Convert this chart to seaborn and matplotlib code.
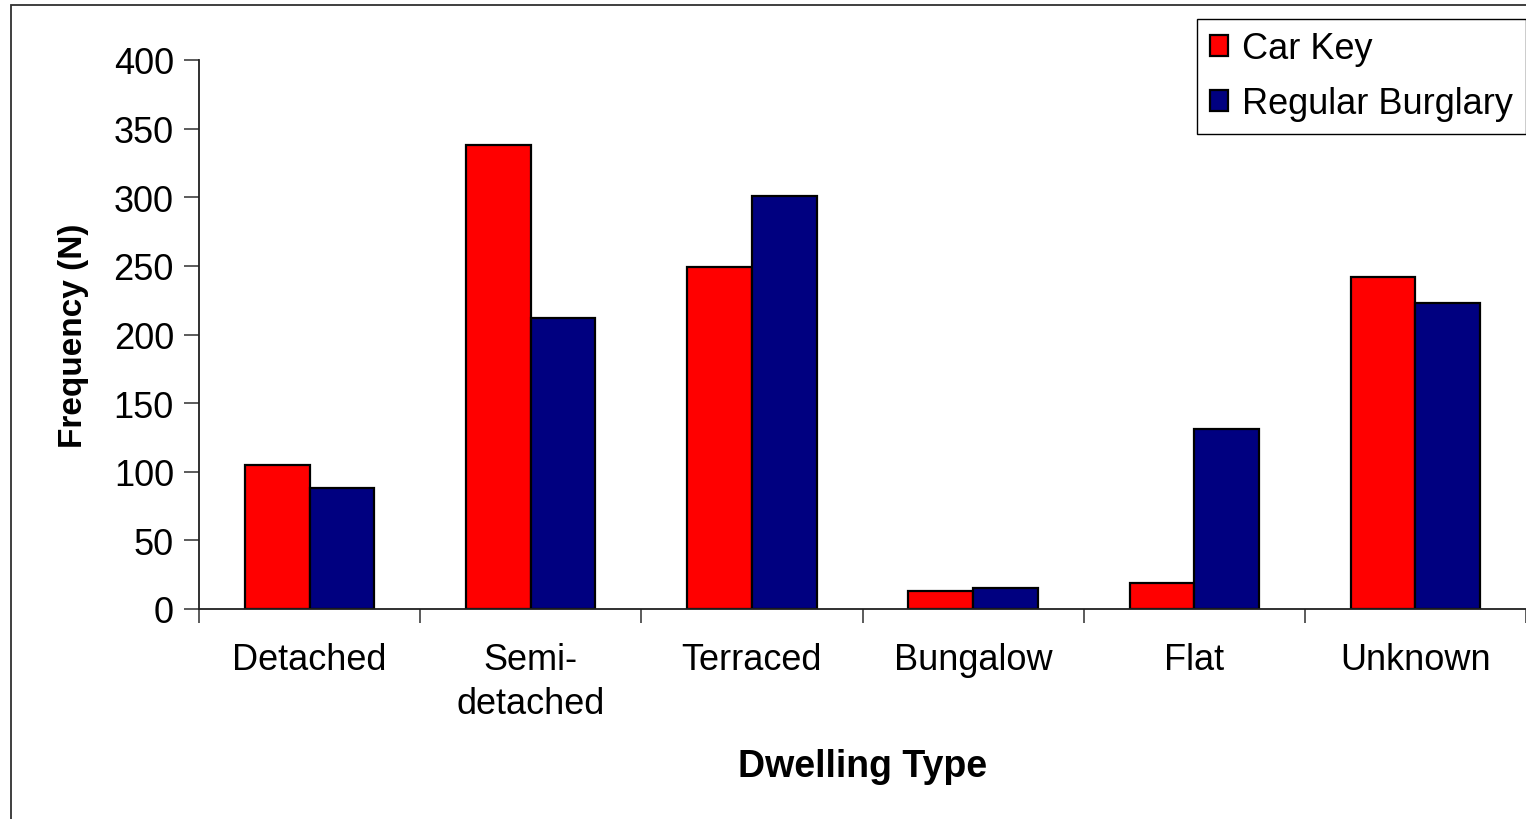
import matplotlib
matplotlib.use("Agg")
import matplotlib.pyplot as plt
from matplotlib.patches import Rectangle
import seaborn as sns
import pandas as pd

# Dwelling types and burglary counts
categories = ["Detached", "Semi-\ndetached", "Terraced", "Bungalow", "Flat", "Unknown"]
car_key = [105, 338, 249, 13, 19, 242]
regular_burglary = [88, 212, 301, 15, 131, 223]
series_names = ["Car Key", "Regular Burglary"]
y_ticks = [0, 50, 100, 150, 200, 250, 300, 350, 400]

df = pd.DataFrame({
    "Dwelling Type": categories * 2,
    "Frequency": car_key + regular_burglary,
    "Series": [series_names[0]] * len(categories) + [series_names[1]] * len(categories),
})

sns.set_style("white")
plt.rcParams["font.family"] = ["Liberation Sans", "DejaVu Sans"]
plt.rcParams["text.color"] = "black"
plt.rcParams["axes.labelcolor"] = "black"
plt.rcParams["xtick.color"] = "black"
plt.rcParams["ytick.color"] = "black"

W, H = 1526, 820
fig = plt.figure(figsize=(W / 100, H / 100), dpi=100)
ax = fig.add_axes([199 / W, 1 - 610 / H, (1526 - 199) / W, (610 - 61) / H])

sns.barplot(
    data=df, x="Dwelling Type", y="Frequency", hue="Series",
    palette={"Car Key": "#FF0000", "Regular Burglary": "#000080"},
    width=0.585, edgecolor="black", linewidth=1.6, saturation=1,
    ax=ax, legend=True,
)

ax.set_xlim(-0.5, len(categories) - 0.5)
ax.set_ylim(0, 400)
ax.set_yticks(y_ticks)
ax.tick_params(axis="y", direction="out", length=11, width=1.2, color="#404040",
               labelsize=26, labelcolor="black", pad=7, left=True)
# Category boundaries carry the tick marks; labels sit between them
ax.set_xticks(range(len(categories)))
ax.set_xticklabels(categories, fontsize=26, linespacing=1.33, color="black")
ax.tick_params(axis="x", which="major", length=0, pad=24)
ax.set_xticks([i - 0.5 for i in range(len(categories) + 1)], minor=True)
ax.tick_params(axis="x", which="minor", direction="out", length=10, width=1.2,
               color="#404040", bottom=True)

for side in ["top", "right"]:
    ax.spines[side].set_visible(False)
for side in ["left", "bottom"]:
    ax.spines[side].set_color("#202020")
    ax.spines[side].set_linewidth(1.3)

ax.set_xlabel("Dwelling Type", fontsize=27, fontweight="bold", labelpad=19)
ax.set_ylabel("Frequency (N)", fontsize=24, fontweight="bold", labelpad=18)

leg = ax.legend(
    loc="upper right", bbox_to_anchor=(1.0, 1.075), fontsize=26,
    frameon=True, fancybox=False, edgecolor="black", framealpha=1,
    handlelength=0.5, handleheight=0.5, handletextpad=0.4,
    borderpad=0.35, labelspacing=0.55, borderaxespad=0.0,
)
leg.get_frame().set_linewidth(1.0)

# Outer chart frame
fig.patches.append(Rectangle((11 / W, -0.1), 1.2, (H - 6) / H + 0.1,
                             transform=fig.transFigure, fill=False,
                             edgecolor="#303030", linewidth=1.3, zorder=0))

fig.savefig("out.png", dpi=100)
